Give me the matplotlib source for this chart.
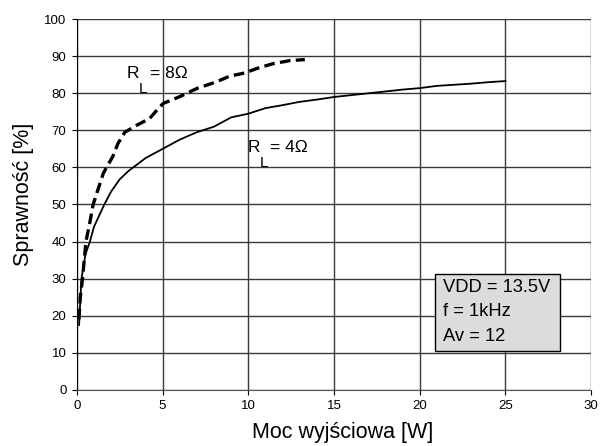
import matplotlib
matplotlib.use("Agg")
import matplotlib.pyplot as plt
from matplotlib.patches import Rectangle

plt.rcParams['font.family'] = ['Liberation Sans', 'DejaVu Sans']

# R_L = 4 ohm (solid)
p4 = [0.13, 0.2, 0.27, 0.5, 0.76, 1.0, 1.6, 2.0, 2.5, 3.0, 4.0, 5.0, 6.0, 7.0, 8.0, 9.0,
      10.0, 11.0, 12.0, 13.0, 14.0, 15.0, 16.0, 17.0, 18.0, 19.0, 20.0, 21.0, 22.0, 23.0, 24.0, 25.0]
e4 = [17.5, 24, 30, 36.5, 40, 44, 50, 53.5, 56.8, 59, 62.5, 65, 67.5, 69.5, 71, 73.5,
      74.5, 76, 76.8, 77.7, 78.3, 79, 79.5, 80, 80.5, 81, 81.4, 82, 82.3, 82.6, 83, 83.3]

# R_L = 8 ohm (dashed)
p8 = [0.12, 0.2, 0.33, 0.53, 0.75, 0.95, 1.3, 1.55, 2.1, 2.4, 2.8, 3.5, 4.25, 4.75, 5.05,
      6.0, 7.0, 8.15, 8.9, 9.8, 10.5, 11.45, 12.4, 13.3]
e8 = [19, 25, 30, 40, 45, 50, 55, 58.5, 63, 66.5, 69.5, 71.4, 73.2, 75.9, 77.3,
      79.1, 81.3, 83.1, 84.6, 85.5, 86.7, 88, 88.8, 89.1]

box_lines = ["VDD = 13.5V", "f = 1kHz", "Av = 12"]

fig = plt.figure(figsize=(6.1, 4.46), dpi=100)
ax = fig.add_axes([0.126, 0.126, 0.843, 0.831])

ax.plot(p4, e4, color='black', lw=1.3)
ax.plot(p8, e8, color='black', lw=2.4, dashes=(3.2, 1.6))

ax.set_xlim(0, 30)
ax.set_ylim(0, 100)
ax.set_xticks(range(0, 31, 5))
ax.set_yticks(range(0, 101, 10))
ax.grid(True, color='#3a3a3a', lw=1.0)
ax.set_axisbelow(True)
for s in ['top', 'right']:
    ax.spines[s].set_visible(False)
ax.spines['left'].set_color('black')
ax.spines['bottom'].set_color('#555555')
ax.tick_params(direction='out', length=3.5, labelsize=9.5, pad=4)

ax.set_xlabel('Moc wyjściowa [W]', fontsize=15.5)
ax.set_ylabel('Sprawność [%]', fontsize=15.5)
ax.xaxis.set_label_coords(0.517, -0.129)
ax.xaxis.label.set_va('baseline')
ax.yaxis.set_label_coords(-0.084, 0.526)


def rl_label(x, y, rest):
    ax.text(x, y, 'R', fontsize=12.5, va='baseline')
    ax.annotate('L', xy=(x, y), xytext=(8.8, -10.8), textcoords='offset points',
                fontsize=11, va='baseline')
    ax.annotate(rest, xy=(x, y), xytext=(16.6, 0), textcoords='offset points',
                fontsize=12.5, va='baseline')


rl_label(2.9, 84.0, '= 8Ω')
rl_label(9.94, 64.2, '= 4Ω')

ax.add_patch(Rectangle((20.9, 10.4), 7.3, 20.9, facecolor='#dcdcdc',
                       edgecolor='black', lw=1, zorder=3))
for i, line in enumerate(box_lines):
    ax.text(21.37, 27.7 - 6.6 * i, line, fontsize=13.2, va='center', ha='left', zorder=4)

fig.savefig('out.png', dpi=100)
